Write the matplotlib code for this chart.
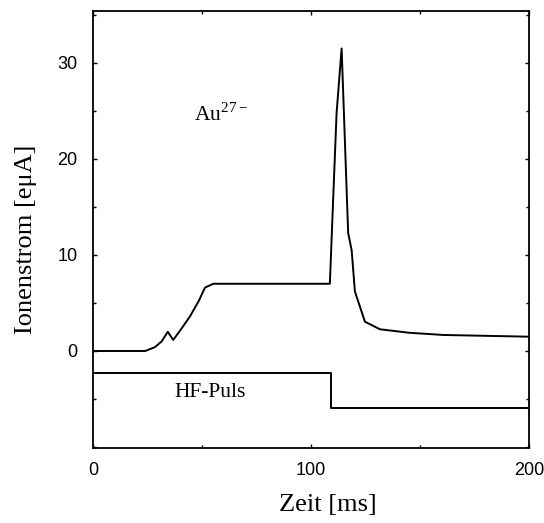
import matplotlib
matplotlib.use("Agg")
import matplotlib.pyplot as plt
from matplotlib.ticker import MultipleLocator

# Ion current trace (Au27-)
t_ion = [0, 24.0, 28.4, 31.5, 34.3, 36.8, 40.5, 44.5, 48.5, 51.4, 55.2, 108.7,
         110.2, 111.8, 114.1, 117.1, 118.7, 120.2, 124.8, 131.7, 145.0, 160.7, 180.0, 200.0]
i_ion = [0, 0, 0.4, 1.0, 2.0, 1.15, 2.3, 3.6, 5.2, 6.6, 7.0, 7.0,
         15.7, 24.8, 31.5, 12.3, 10.5, 6.2, 3.05, 2.26, 1.9, 1.67, 1.58, 1.49]

# HF pulse trace
t_hf = [0, 109.2, 109.2, 200]
v_hf = [-2.26, -2.26, -5.9, -5.9]

xticks = [0, 100, 200]
yticks = [0, 10, 20, 30]

fig = plt.figure(figsize=(5.44, 5.23), dpi=100)
ax = fig.add_axes([0.171, 0.1434, 0.801, 0.8356])

ax.plot(t_ion, i_ion, color="black", lw=1.4, solid_joinstyle="round")
ax.plot(t_hf, v_hf, color="black", lw=1.4)

ax.set_xlim(0, 200)
ax.set_ylim(-10.1, 35.4)
ax.set_xticks(xticks)
ax.set_yticks(yticks)
ax.yaxis.set_minor_locator(MultipleLocator(5))
ax.xaxis.set_minor_locator(MultipleLocator(50))

for s in ax.spines.values():
    s.set_linewidth(1.3)

ax.tick_params(which="both", direction="in", top=True, right=True, width=1.0)
ax.tick_params(which="major", length=3)
ax.tick_params(which="minor", length=2)
ax.tick_params(axis="y", which="major", pad=11, labelsize=13)
ax.tick_params(axis="x", which="major", pad=10, labelsize=13)
for lab in ax.get_xticklabels() + ax.get_yticklabels():
    lab.set_family("Liberation Sans")

serif = "Liberation Serif"
ax.set_ylabel("Ionenstrom [eμA]", fontsize=19, family=serif)
ax.yaxis.set_label_coords(-0.128, 0.478)
ax.set_xlabel("Zeit [ms]", fontsize=19, family=serif)
ax.xaxis.set_label_coords(0.538, -0.105)

ax.text(46.5, 24.6, r"Au$^{\mathregular{27−}}$", fontsize=15.5, family=serif, va="center", ha="left")
ax.text(37.5, -4.3, "HF-Puls", fontsize=15.5, family=serif, va="center", ha="left")

fig.savefig("out.png", dpi=100)
